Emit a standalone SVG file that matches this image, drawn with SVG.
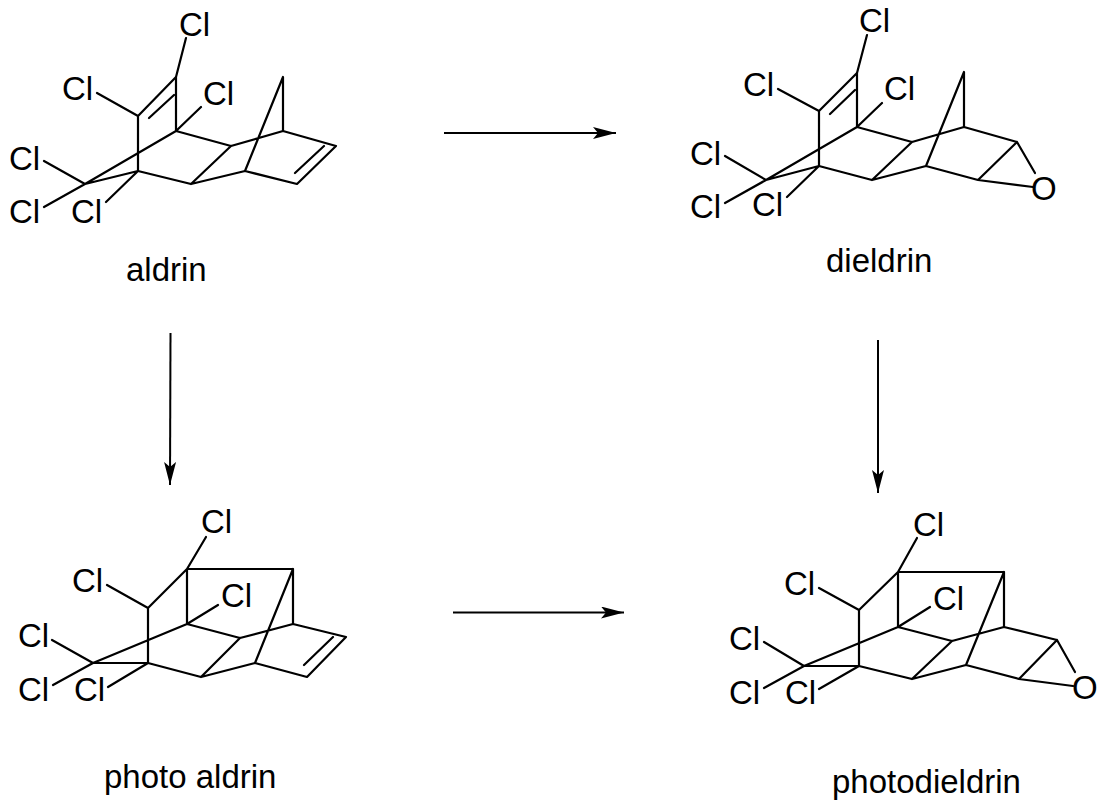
<svg xmlns="http://www.w3.org/2000/svg" width="1102" height="806" viewBox="0 0 1102 806">
<style>
.b{fill:none;stroke:#000;stroke-width:2.2;stroke-linecap:round;stroke-linejoin:round}
.a{fill:none;stroke:#000;stroke-width:2}
text{font-family:"Liberation Sans",Arial,sans-serif;font-size:33px;fill:#000}
</style>
<defs>
<marker id="h" markerUnits="userSpaceOnUse" markerWidth="24" markerHeight="14" refX="23" refY="6" orient="auto"><path d="M0 0L23 6L0 12L5 6Z" fill="#000"/></marker>
</defs>
<rect width="1102" height="806" fill="#fff"/>
<g id="connectors">
<path class="a" d="M444 133H616" marker-end="url(#h)"/>
<path class="a" d="M170.500 333L170 485" marker-end="url(#h)"/>
<path class="a" d="M453 612.500H624" marker-end="url(#h)"/>
<path class="a" d="M878 340V493" marker-end="url(#h)"/>
</g>
<g id="aldrin">
<path class="b" d="M186 38L176 77L138 116V171M176 77V131M174 95L149 118M97 93L138 116M201 107L176 131L85 184L138 171L191 184L245 171L283 77V131L231 146L176 131M44 161L85 184L44 207M138 171L106 202M231 146L191 184M283 131L336 146L297 184L245 171M324 146L295 173"/>
<text x="179" y="36">Cl</text><text x="62" y="100">Cl</text><text x="203" y="105">Cl</text><text x="9" y="170">Cl</text><text x="9" y="223">Cl</text><text x="71" y="223">Cl</text>
<text x="126" y="281">aldrin</text>
</g>
<g id="dieldrin">
<path class="b" d="M867 35L857 73L819 111V166M857 73V127M855 90L830 114M778 89L819 111M882 103L857 127L766 180L819 166L872 180L926 166L964 72V127L912 142L857 127M725 156L766 180L725 203M819 166L787 197M912 142L872 180M964 127L1017 142L978 180L926 166M1017 142L1035 173M978 180L1033 187"/>
<text x="859" y="32">Cl</text><text x="743" y="96">Cl</text><text x="884" y="100">Cl</text><text x="690" y="165">Cl</text><text x="690" y="218">Cl</text><text x="752" y="216">Cl</text><text x="1031" y="200">O</text>
<text x="826" y="272">dieldrin</text>
</g>
<g id="photo-aldrin">
<path class="b" d="M206 537L187 569L148 608V663M187 569H293V624L240 638L187 624V569M107 585L148 608M218 605L187 624L93 663H148L201 677L255 663L293 569M52 640L93 663L53 685M148 663L108 687M240 638L201 677M293 624L346 637L307 677L255 663M333 637L304 665"/>
<text x="201" y="533">Cl</text><text x="72" y="592">Cl</text><text x="221" y="607">Cl</text><text x="18" y="647">Cl</text><text x="18" y="701">Cl</text><text x="74" y="701">Cl</text>
<text x="104" y="788">photo aldrin</text>
</g>
<g id="photodieldrin">
<path class="b" d="M917 538L898 572L859 610V666M898 572H1004V627L952 641L898 627V572M819 588L859 610M930 607L898 627L804 666H859L912 679L966 665L1004 572M764 642L804 666L764 688M859 666L819 689M952 641L912 679M1004 627L1057 640L1019 679L966 665M1057 640L1075 672M1019 679L1073 686"/>
<text x="913" y="536">Cl</text><text x="784" y="595">Cl</text><text x="933" y="610">Cl</text><text x="729" y="650">Cl</text><text x="729" y="704">Cl</text><text x="785" y="704">Cl</text><text x="1072" y="699">O</text>
<text x="832" y="793">photodieldrin</text>
</g>
</svg>
